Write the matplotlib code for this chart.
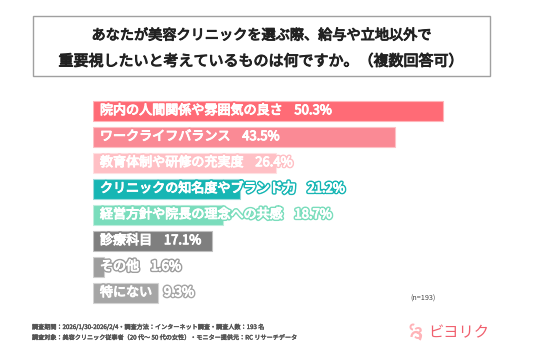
import matplotlib
matplotlib.use("Agg")
import matplotlib.pyplot as plt
import matplotlib.patheffects as pe
from matplotlib.patches import Rectangle, Arc

plt.rcParams['font.family'] = ['Noto Sans CJK JP', 'DejaVu Sans']

categories = ["院内の人間関係や雰囲気の良さ", "ワークライフバランス", "教育体制や研修の充実度",
              "クリニックの知名度やブランド力", "経営方針や院長の理念への共感", "診療科目",
              "その他", "特にない"]
values = [50.3, 43.5, 26.4, 21.2, 18.7, 17.1, 1.6, 9.3]
colors = ["#FF6B76", "#FA8A95", "#FFC0C5", "#17B6B4", "#7ADDBC", "#7F7F7F", "#9E9E9E", "#A6A6A6"]
edges = ["#FFB5BA", "#FDC2C7", "#FFE0E2", "#9ADCDB", "#BDEEDD", "#BFBFBF", "#CFCFCF", "#D3D3D3"]
title_lines = ["あなたが美容クリニックを選ぶ際、給与や立地以外で",
               "重要視したいと考えているものは何ですか。（複数回答可）"]
notes = ["調査期間：2026/1/30-2026/2/4・調査方法：インターネット調査・調査人数：193 名",
         "調査対象：美容クリニック従事者（20 代～ 50 代の女性）・モニター提供元：RC リサーチデータ"]
n_label = "(n=193)"
brand = "ビヨリク"

W, H = 536, 357
fig = plt.figure(figsize=(W / 100, H / 100), dpi=100)
fig.patch.set_facecolor("white")

# title box
bg = fig.add_axes([0, 0, 1, 1])
bg.set_xlim(0, W)
bg.set_ylim(H, 0)
bg.axis("off")
bg.add_patch(Rectangle((33, 16), 457, 60, fill=False, edgecolor="#A0A0A0", linewidth=1.0))
for ty, line, fs in zip([35.5, 61.5], title_lines, [10.2, 10.8]):
    bg.text(261, ty, line, ha="center", va="center", fontsize=fs, color="#222222",
            path_effects=[pe.withStroke(linewidth=0.7, foreground="#222222")])

# bars axes
px = 6.95
left, top = 93, 97.7
aw = 420
ah = 26 * 8
ax = fig.add_axes([left / W, 1 - (top + ah) / H, aw / W, ah / H])
ax.set_xlim(0, aw / px)
ax.set_ylim(7.5, -0.5)
ax.axis("off")
ys = list(range(len(values)))
ax.barh(ys, values, height=20 / 26, color=colors, edgecolor=edges, linewidth=0.8, align="center")
for y, v, c, lab in zip(ys, values, colors, categories):
    ax.annotate(f"{lab}    {v:.1f}%", xy=(0, y), xytext=(5.0, 0), textcoords="offset points",
                ha="left", va="center", fontsize=9.4, color="white",
                path_effects=[pe.withStroke(linewidth=2.8, foreground=c),
                              pe.withStroke(linewidth=0.7, foreground="white")])

# footnotes
bg.text(410, 299, n_label, ha="left", va="center", fontsize=5.2, color="#444444")
bg.text(32, 327, notes[0], ha="left", va="center", fontsize=4.4, color="#555555",
        path_effects=[pe.withStroke(linewidth=0.3, foreground="#555555")])
bg.text(32, 337.5, notes[1], ha="left", va="center", fontsize=4.4, color="#555555",
        path_effects=[pe.withStroke(linewidth=0.3, foreground="#555555")])

# logo
bg.text(428, 333, brand, ha="left", va="center", fontsize=11, color="#F0606E")
bg.add_patch(Arc((416, 337), 9, 10, theta1=180, theta2=40, color="#FFB3B8", linewidth=1.6))
bg.text(418.5, 334, "3", ha="center", va="center", fontsize=11, color="#FFB3B8", fontweight="bold")
bg.add_patch(Arc((413, 327), 5, 5, theta1=90, theta2=300, color="#FFB3B8", linewidth=1.4))

fig.savefig("out.png", dpi=100, facecolor="white")
